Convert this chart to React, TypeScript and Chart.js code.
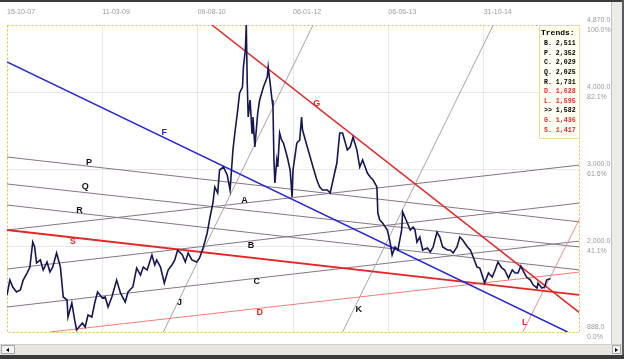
import React, { useEffect, useRef } from 'react';
import { Chart, registerables } from 'chart.js';

Chart.register(...registerables);

// ---- axis ticks ----
const xTickDays = [0, 100, 200, 300, 400, 500];
const xTickLabels = ['15-10-07', '11-03-09', '09-08-10', '06-01-12', '06-06-13', '31-10-14'];
const yTickValues = [888, 2000, 3000, 4000, 4870];
const yTickLabels = ['888.0', '2,000.0', '3,000.0', '4,000.0', '4,870.0'];
const yTickPercents = ['0.0%', '41.1%', '61.6%', '82.1%', '100.0%'];

// ---- price series (trading-day index, close) ----
const priceDay = [
  0, 3, 6, 10, 14, 17, 21, 24, 27, 29,
  31, 35, 38, 42, 45, 48, 52, 56, 59, 63,
  64, 68, 71, 73, 79, 82, 85, 89, 92, 95,
  100, 103, 106, 110, 115, 119, 124, 127, 132, 136,
  140, 143, 147, 152, 155, 157, 161, 165, 169, 173,
  176, 179, 184, 187, 190, 194, 199, 202, 206, 210,
  213, 216, 218, 221, 223, 227, 231, 234, 237, 239,
  242, 244, 247, 248, 250, 251, 252, 253, 255, 257,
  258, 260, 263, 265, 269, 273, 274, 276, 278, 279,
  280, 281, 283, 284, 286, 288, 290, 294, 297, 299,
  300, 304, 307, 309, 310, 315, 318, 321, 325, 328,
  331, 336, 339, 342, 346, 349, 352, 357, 360, 363,
  367, 370, 373, 378, 381, 384, 388, 389, 391, 394,
  399, 402, 404, 407, 410, 414, 415, 420, 423, 426,
  428, 430, 433, 436, 441, 444, 447, 451, 454, 457,
  462, 465, 468, 472, 475, 478, 483, 486, 489, 493,
  496, 499, 501, 505, 509, 512, 515, 519, 522, 526,
  530, 533, 536, 539, 541, 545, 549, 552, 556, 557,
  561, 564, 566, 570,
];
const priceClose = [
  1368, 1562, 1472, 1407, 1433, 1562, 1653, 1731, 2055, 1990,
  1783, 1822, 1692, 1796, 1666, 1731, 1913, 1731, 1342, 1303,
  1082, 1264, 1043, 914, 1005, 953, 1108, 1082, 1264, 1407,
  1329, 1342, 1212, 1342, 1562, 1394, 1277, 1407, 1472, 1718,
  1627, 1731, 1692, 1887, 1757, 1822, 1731, 1523, 1692, 1757,
  1822, 1951, 1887, 1796, 1913, 1822, 1796, 1848, 1990, 2172,
  2380, 2561, 2769, 2691, 2989, 3028, 2924, 2730, 3249, 3469,
  3767, 3988, 4066, 4325, 4545, 4870, 4117, 3677, 3897, 3469,
  3677, 3287, 3728, 3897, 4066, 4195, 4325, 4117, 3897, 3806,
  3119, 2820, 3119, 3028, 3469, 3378, 3339, 3158, 2989, 2639,
  2989, 3339, 3378, 3677, 3508, 3287, 3158, 3028, 2859, 2769,
  2730, 2730, 2691, 2859, 3080, 3469, 3469, 3249, 3287, 3417,
  3249, 3028, 3119, 2950, 2898, 2859, 2769, 2431, 2341, 2302,
  2211, 2042, 1887, 1990, 1951, 2211, 2444, 2302, 2211, 2250,
  2211, 2055, 2120, 1951, 1977, 1926, 1990, 2185, 2120, 1990,
  1951, 1951, 1913, 1990, 2120, 2081, 1990, 1951, 1861, 1731,
  1718, 1601, 1523, 1653, 1601, 1692, 1796, 1718, 1692, 1588,
  1692, 1653, 1653, 1744, 1692, 1601, 1562, 1497, 1459, 1523,
  1459, 1472, 1562, 1582,
];

// ---- trend lines (two anchor points each, day / value) ----
const trendNames = ['F', 'G', 'S', 'D', 'L', 'J', 'K', 'P', 'Q', 'R', 'A', 'B', 'C'];
const trendDay1 = [0, 215, 0, 45, 541, 164, 352, 0, 0, 0, 0, 0, 0];
const trendValue1 = [4390, 4870, 2211, 888, 888, 888, 888, 3158, 2808, 2535, 2211, 1705, 1212];
const trendDay2 = [588, 601, 601, 601, 601, 321, 510, 601, 601, 601, 601, 601, 601];
const trendValue2 = [888, 1134, 1368, 1666, 2367, 4870, 4870, 2315, 1990, 1692, 3054, 2561, 2068];
const trendLabelDay = [165, 325, 69, 265, 543, 181, 369, 86, 82, 76, 249, 256, 262];
const trendLabelValue = [3469, 3858, 2068, 1147, 1005, 1264, 1186, 3080, 2769, 2470, 2587, 2016, 1537];

// ---- trends box ----
const legendTitle = 'Trends:';
const legendKeys = ['B.', 'P.', 'C.', 'Q.', 'R.', 'D.', 'L.', '>>', 'G.', 'S.'];
const legendValues = ['2,511', '2,352', '2,029', '2,025', '1,731', '1,628', '1,595', '1,582', '1,436', '1,417'];

const RED = '#e42626';
const trendStyle: Record<string, { color: string; width: number; text: string }> = {
  F: { color: '#2828d8', width: 1.5, text: '#2828d8' },
  G: { color: RED, width: 1.5, text: RED },
  S: { color: RED, width: 1.8, text: RED },
  D: { color: '#f27c7c', width: 1, text: RED },
  L: { color: '#f28c8c', width: 1, text: RED },
  J: { color: '#aaa3a3', width: 1, text: '#111' },
  K: { color: '#aaa3a3', width: 1, text: '#111' },
  P: { color: '#857486', width: 1, text: '#111' },
  Q: { color: '#857486', width: 1, text: '#111' },
  R: { color: '#857486', width: 1, text: '#111' },
  A: { color: '#857486', width: 1, text: '#111' },
  B: { color: '#857486', width: 1, text: '#111' },
  C: { color: '#857486', width: 1, text: '#111' },
};
const redKeys = ['D.', 'L.', 'G.', 'S.'];

const overlayPlugin = {
  id: 'overlay',
  beforeDatasetsDraw(chart: any) {
    const { ctx, chartArea: a } = chart;
    ctx.save();
    ctx.strokeStyle = '#d9c22a';
    ctx.lineWidth = 1;
    ctx.setLineDash([2, 2]);
    ctx.strokeRect(a.left + 0.5, a.top + 0.5, a.right - a.left, a.bottom - a.top);
    ctx.restore();
  },
  afterDatasetsDraw(chart: any) {
    const { ctx, chartArea: a, scales } = chart;
    ctx.save();
    // trend labels
    ctx.font = 'bold 9px "Liberation Sans", Arial, sans-serif';
    ctx.textAlign = 'center';
    ctx.textBaseline = 'middle';
    trendNames.forEach((n, i) => {
      ctx.fillStyle = trendStyle[n].text;
      ctx.fillText(n, scales.x.getPixelForValue(trendLabelDay[i]), scales.y.getPixelForValue(trendLabelValue[i]));
    });
    // trends box
    const bw = 40;
    const bh = 113;
    const bx = a.right - bw;
    const by = a.top;
    ctx.fillStyle = '#fffff3';
    ctx.fillRect(bx, by, bw, bh);
    ctx.strokeStyle = '#eadb9c';
    ctx.lineWidth = 1;
    ctx.strokeRect(bx + 0.5, by + 0.5, bw, bh);
    ctx.textAlign = 'left';
    ctx.fillStyle = '#000';
    ctx.font = 'bold 8px "Liberation Mono", "Courier New", monospace';
    ctx.fillText(legendTitle, bx + 2, by + 8);
    ctx.font = 'bold 6.6px "Liberation Mono", "Courier New", monospace';
    legendKeys.forEach((k, i) => {
      ctx.fillStyle = redKeys.includes(k) ? RED : '#000';
      ctx.fillText(k + ' ' + legendValues[i], bx + 5, by + 18.4 + i * 9.63);
    });
    ctx.restore();
  },
};

export default function App() {
  const ref = useRef<HTMLCanvasElement>(null);

  useEffect(() => {
    if (!ref.current) return;
    const priceData = priceDay.map((d, i) => ({ x: d, y: priceClose[i] }));
    const trendSets = trendNames.map((n, i) => ({
      label: n,
      data: [
        { x: trendDay1[i], y: trendValue1[i] },
        { x: trendDay2[i], y: trendValue2[i] },
      ],
      borderColor: trendStyle[n].color,
      borderWidth: trendStyle[n].width,
      pointRadius: 0,
      tension: 0,
      clip: 0,
    }));
    const chart = new Chart(ref.current, {
      type: 'line',
      data: {
        datasets: [
          {
            label: 'Price',
            data: priceData,
            borderColor: '#161656',
            borderWidth: 1.6,
            pointRadius: 0,
            tension: 0,
            clip: 0,
          } as any,
          ...(trendSets as any[]),
        ],
      },
      options: {
        animation: false,
        responsive: false,
        devicePixelRatio: 1,
        events: [],
        layout: { padding: { left: 7, right: 0, top: 0, bottom: 11 } },
        plugins: { legend: { display: false }, tooltip: { enabled: false } },
        scales: {
          x: {
            type: 'linear',
            position: 'top',
            min: 0,
            max: 600,
            afterBuildTicks: (s: any) => {
              s.ticks = xTickDays.map((v) => ({ value: v }));
            },
            afterFit: (s: any) => {
              s.height = 25;
              s.paddingLeft = 0;
              s.paddingRight = 0;
            },
            grid: {
              color: (c: any) => (c.tick && c.tick.value === 0 ? 'rgba(0,0,0,0)' : '#e8e8e8'),
              drawTicks: false,
            },
            border: { display: false },
            ticks: {
              align: 'start',
              padding: 9,
              color: '#9a9a9a',
              maxRotation: 0,
              autoSkip: false,
              font: { family: '"Liberation Sans", Arial, sans-serif', size: 7 },
              callback: (v: any) => {
                const i = xTickDays.indexOf(Number(v));
                return i < 0 ? '' : xTickLabels[i];
              },
            },
          } as any,
          y: {
            type: 'linear',
            position: 'right',
            min: 888,
            max: 4870,
            afterBuildTicks: (s: any) => {
              s.ticks = yTickValues.map((v) => ({ value: v }));
            },
            afterFit: (s: any) => {
              s.width = 33;
              s.paddingTop = 0;
              s.paddingBottom = 0;
            },
            grid: {
              color: (c: any) =>
                c.tick && (c.tick.value === 888 || c.tick.value === 4870) ? 'rgba(0,0,0,0)' : '#e8e8e8',
              drawTicks: false,
            },
            border: { display: false },
            ticks: {
              padding: 8,
              color: '#9a9a9a',
              autoSkip: false,
              font: { family: '"Liberation Sans", Arial, sans-serif', size: 7, lineHeight: 1.4 },
              callback: (v: any) => {
                const i = yTickValues.indexOf(Number(v));
                return i < 0 ? '' : [yTickLabels[i], yTickPercents[i]];
              },
            },
          } as any,
        },
      },
      plugins: [overlayPlugin],
    });
    return () => chart.destroy();
  }, []);

  return (
    <div
      style={{
        position: 'fixed',
        left: 0,
        top: 0,
        width: 624,
        height: 359,
        background: '#ffffff',
        overflow: 'hidden',
      }}
    >
      <canvas
        ref={ref}
        width={612}
        height={343}
        style={{ position: 'absolute', left: 0, top: 0, width: 612, height: 343 }}
      />
      {/* top frame */}
      <div style={{ position: 'absolute', left: 0, top: 0, width: 624, height: 2, background: '#3c3c3c' }} />
      {/* right strip */}
      <div
        style={{
          position: 'absolute',
          left: 611,
          top: 2,
          width: 11,
          height: 342,
          background: '#ecebe6',
          borderLeft: '1px solid #c2c2c2',
          boxSizing: 'border-box',
        }}
      />
      <div style={{ position: 'absolute', left: 622, top: 0, width: 2, height: 359, background: '#5a5a5a' }} />
      {/* bottom scrollbar */}
      <div
        style={{
          position: 'absolute',
          left: 0,
          top: 344,
          width: 622,
          height: 11,
          background: '#e6e5e0',
          borderTop: '1px solid #cfcfcf',
          boxSizing: 'border-box',
        }}
      />
      <div
        style={{
          position: 'absolute',
          left: 1,
          top: 345,
          width: 14,
          height: 9,
          background: '#f3f3f3',
          border: '1px solid #a8a8a8',
          boxSizing: 'border-box',
        }}
      >
        <div
          style={{
            position: 'absolute',
            left: 4,
            top: 1.5,
            width: 0,
            height: 0,
            borderTop: '2.5px solid transparent',
            borderBottom: '2.5px solid transparent',
            borderRight: '3px solid #000',
          }}
        />
      </div>
      <div
        style={{
          position: 'absolute',
          left: 612,
          top: 345,
          width: 9,
          height: 9,
          background: '#f3f3f3',
          border: '1px solid #a8a8a8',
          boxSizing: 'border-box',
        }}
      >
        <div
          style={{
            position: 'absolute',
            left: 2,
            top: 1.5,
            width: 0,
            height: 0,
            borderTop: '2.5px solid transparent',
            borderBottom: '2.5px solid transparent',
            borderLeft: '3px solid #000',
          }}
        />
      </div>
      {/* bottom frame */}
      <div style={{ position: 'absolute', left: 0, top: 355, width: 624, height: 4, background: '#3c3c3c' }} />
    </div>
  );
}
